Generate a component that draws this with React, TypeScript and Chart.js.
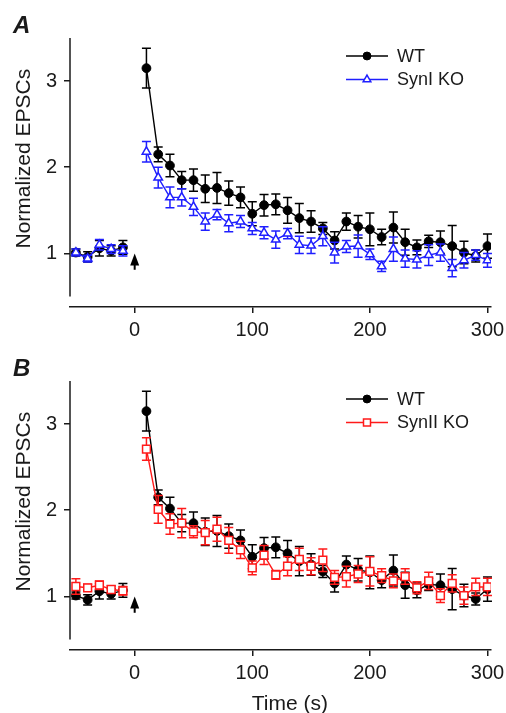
import React, { useEffect, useRef } from 'react';
import { Chart, registerables } from 'chart.js';

Chart.register(...registerables);

// ---------- data ----------
const TIMES = [-50, -40, -30, -20, -10, 10, 20, 30, 40, 50, 60, 70, 80, 90, 100, 110, 120, 130, 140, 150, 160, 170, 180, 190, 200, 210, 220, 230, 240, 250, 260, 270, 280, 290, 300];

const WT_MEAN = [1.01, 0.96, 1.06, 1.03, 1.07, 3.15, 2.15, 2.02, 1.85, 1.85, 1.75, 1.76, 1.70, 1.65, 1.46, 1.56, 1.57, 1.50, 1.41, 1.37, 1.29, 1.15, 1.37, 1.31, 1.28, 1.19, 1.30, 1.13, 1.07, 1.14, 1.13, 1.085, 1.01, 0.97, 1.085];
const WT_SEM = [0.04, 0.06, 0.09, 0.06, 0.08, 0.23, 0.085, 0.13, 0.1, 0.13, 0.16, 0.18, 0.14, 0.12, 0.14, 0.125, 0.12, 0.15, 0.17, 0.125, 0.07, 0.1, 0.1, 0.13, 0.19, 0.09, 0.18, 0.15, 0.085, 0.07, 0.13, 0.24, 0.13, 0.07, 0.14];

const SYN1_MEAN = [1.01, 0.94, 1.10, 1.05, 1.03, 2.18, 1.88, 1.65, 1.65, 1.54, 1.37, 1.45, 1.35, 1.37, 1.29, 1.24, 1.16, 1.23, 1.10, 1.09, 1.20, 1.01, 1.08, 1.085, 0.99, 0.85, 1.05, 0.94, 0.93, 0.98, 1.01, 0.83, 0.92, 0.98, 0.92];
const SYN1_SEM = [0.04, 0.04, 0.06, 0.05, 0.06, 0.12, 0.12, 0.12, 0.1, 0.1, 0.1, 0.06, 0.1, 0.07, 0.07, 0.07, 0.1, 0.06, 0.1, 0.09, 0.11, 0.12, 0.07, 0.13, 0.06, 0.06, 0.14, 0.1, 0.1, 0.12, 0.1, 0.1, 0.09, 0.06, 0.08];

const SYN2_MEAN = [1.115, 1.10, 1.13, 1.08, 1.065, 2.71, 2.01, 1.84, 1.85, 1.75, 1.74, 1.78, 1.65, 1.54, 1.33, 1.48, 1.25, 1.35, 1.43, 1.35, 1.42, 1.22, 1.23, 1.26, 1.29, 1.24, 1.18, 1.23, 1.10, 1.18, 1.01, 1.15, 1.01, 1.11, 1.11];
const SYN2_SEM = [0.09, 0.04, 0.05, 0.04, 0.05, 0.13, 0.16, 0.12, 0.17, 0.07, 0.14, 0.14, 0.15, 0.1, 0.08, 0.11, 0.05, 0.11, 0.13, 0.1, 0.13, 0.08, 0.12, 0.1, 0.17, 0.08, 0.08, 0.09, 0.07, 0.1, 0.08, 0.1, 0.1, 0.1, 0.1];

const X_TICKS = [0, 100, 200, 300];
const Y_TICKS = [1, 2, 3];
const X_RANGE = [-55, 303];
const Y_RANGE = [0.378, 3.5];
const Y_AXIS_LINE = [0.5, 3.5];
const STIM_TIME = 0;
const STIM_ARROW = [1.0, 0.81]; // tip, base (normalized EPSC units)
const Y_TITLE = 'Normalized EPSCs';
const X_TITLE = 'Time (s)';

const FONT = "'Liberation Sans', Arial, Helvetica, sans-serif";
const INK = '#1a1a1a';

type MarkerStyle = 'circle' | 'triangle' | 'rect';

function drawMarker(ctx: CanvasRenderingContext2D, style: MarkerStyle, x: number, y: number, r: number, stroke: string, fill: string, lw: number) {
  ctx.save();
  ctx.beginPath();
  if (style === 'circle') {
    ctx.arc(x, y, r, 0, Math.PI * 2);
  } else if (style === 'triangle') {
    let a = 0;
    ctx.moveTo(x + Math.sin(a) * r, y - Math.cos(a) * r);
    a += (2 * Math.PI) / 3;
    ctx.lineTo(x + Math.sin(a) * r, y - Math.cos(a) * r);
    a += (2 * Math.PI) / 3;
    ctx.lineTo(x + Math.sin(a) * r, y - Math.cos(a) * r);
    ctx.closePath();
  } else {
    const s = r * Math.SQRT1_2;
    ctx.rect(x - s, y - s, 2 * s, 2 * s);
  }
  ctx.fillStyle = fill;
  ctx.fill();
  ctx.lineWidth = lw;
  ctx.strokeStyle = stroke;
  ctx.stroke();
  ctx.restore();
}

const errorBarPlugin = {
  id: 'errorBars',
  beforeDatasetDraw(chart: any, args: any) {
    const ds = chart.data.datasets[args.index];
    const errs: number[] | undefined = ds.errorBars;
    if (!errs) return;
    const xs = chart.scales.x;
    const ys = chart.scales.y;
    const ctx: CanvasRenderingContext2D = chart.ctx;
    ctx.save();
    ctx.strokeStyle = ds.borderColor;
    ctx.lineWidth = 1.5;
    ds.data.forEach((p: any, i: number) => {
      if (p.y == null) return;
      const px = xs.getPixelForValue(p.x);
      const top = ys.getPixelForValue(p.y + errs[i]);
      const bot = ys.getPixelForValue(p.y - errs[i]);
      ctx.beginPath();
      ctx.moveTo(px, top);
      ctx.lineTo(px, bot);
      ctx.moveTo(px - 4.5, top);
      ctx.lineTo(px + 4.5, top);
      ctx.moveTo(px - 4.5, bot);
      ctx.lineTo(px + 4.5, bot);
      ctx.stroke();
    });
    ctx.restore();
  },
};

function makeDecorPlugin(showXTitle: boolean) {
  return {
    id: 'decor',
    afterDraw(chart: any) {
      const ctx: CanvasRenderingContext2D = chart.ctx;
      const xs = chart.scales.x;
      const ys = chart.scales.y;
      const left = chart.chartArea.left;
      ctx.save();
      // detached y axis line
      ctx.strokeStyle = INK;
      ctx.lineWidth = 1.5;
      ctx.beginPath();
      ctx.moveTo(left, ys.getPixelForValue(Y_AXIS_LINE[1]));
      ctx.lineTo(left, ys.getPixelForValue(Y_AXIS_LINE[0]));
      ctx.stroke();
      // stimulus arrow
      const ax = xs.getPixelForValue(STIM_TIME);
      const tip = ys.getPixelForValue(STIM_ARROW[0]);
      const base = ys.getPixelForValue(STIM_ARROW[1]);
      ctx.fillStyle = '#000';
      ctx.beginPath();
      ctx.moveTo(ax, tip);
      ctx.lineTo(ax + 4.5, tip + 12);
      ctx.lineTo(ax - 4.5, tip + 12);
      ctx.closePath();
      ctx.fill();
      ctx.lineWidth = 2;
      ctx.strokeStyle = '#000';
      ctx.beginPath();
      ctx.moveTo(ax, tip + 8);
      ctx.lineTo(ax, base);
      ctx.stroke();
      // axis titles
      ctx.fillStyle = INK;
      ctx.font = `21px ${FONT}`;
      ctx.textAlign = 'center';
      ctx.textBaseline = 'middle';
      ctx.save();
      ctx.translate(24, ys.getPixelForValue(2.1));
      ctx.rotate(-Math.PI / 2);
      ctx.fillText(Y_TITLE, 0, 0);
      ctx.restore();
      if (showXTitle) {
        ctx.fillText(X_TITLE, xs.getPixelForValue(132), chart.height - 9);
      }
      // legend
      const area = chart.chartArea;
      const x0 = area.right - 145;
      const lineLen = 42;
      chart.data.datasets.forEach((ds: any, i: number) => {
        const y = area.top + 18 + i * 23.5;
        ctx.strokeStyle = ds.borderColor;
        ctx.lineWidth = 1.3;
        ctx.beginPath();
        ctx.moveTo(x0, y);
        ctx.lineTo(x0 + lineLen, y);
        ctx.stroke();
        drawMarker(ctx, ds.pointStyle, x0 + lineLen / 2, y, ds.pointRadius * 0.9, ds.borderColor, ds.pointBackgroundColor, ds.pointBorderWidth);
        ctx.fillStyle = INK;
        ctx.font = `18px ${FONT}`;
        ctx.textBaseline = 'middle';
        ctx.textAlign = 'left';
        ctx.fillText(ds.label, x0 + lineLen + 9, y + 1);
      });
      ctx.restore();
    },
  };
}

type PanelProps = {
  letter: string;
  koLabel: string;
  koMean: number[];
  koSem: number[];
  koColor: string;
  koStyle: MarkerStyle;
  koRadius: number;
  height: number;
  showXTitle: boolean;
};

function Panel(props: PanelProps) {
  const ref = useRef<HTMLCanvasElement | null>(null);
  useEffect(() => {
    if (!ref.current) return;
    const gapSegment = (color: string) => ({
      borderColor: (c: any) => (c.p0.parsed.x < STIM_TIME && c.p1.parsed.x > STIM_TIME ? 'rgba(0,0,0,0)' : color),
    });
    const xAxisHeight = props.height - 307;
    const chart = new Chart(ref.current, {
      type: 'line',
      data: {
        datasets: [
          {
            label: 'WT',
            data: TIMES.map((t, i) => ({ x: t, y: WT_MEAN[i] })),
            borderColor: '#000000',
            backgroundColor: '#000000',
            pointBackgroundColor: '#000000',
            pointBorderColor: '#000000',
            pointStyle: 'circle',
            pointRadius: 4.4,
            pointBorderWidth: 1,
            borderWidth: 1.4,
            tension: 0,
            order: 1,
            segment: gapSegment('#000000'),
            errorBars: WT_SEM,
          } as any,
          {
            label: props.koLabel,
            data: TIMES.map((t, i) => ({ x: t, y: props.koMean[i] })),
            borderColor: props.koColor,
            backgroundColor: props.koColor,
            pointBackgroundColor: '#ffffff',
            pointBorderColor: props.koColor,
            pointStyle: props.koStyle,
            pointRadius: props.koRadius,
            pointBorderWidth: 1.5,
            borderWidth: 1.4,
            tension: 0,
            order: 0,
            segment: gapSegment(props.koColor),
            errorBars: props.koSem,
          } as any,
        ],
      },
      options: {
        responsive: false,
        animation: false,
        events: [],
        layout: { padding: { left: 13, right: 15, top: 0, bottom: 0 } },
        plugins: {
          legend: { display: false },
          tooltip: { enabled: false },
          title: {
            display: true,
            text: props.letter,
            align: 'start',
            color: INK,
            font: { family: FONT, size: 24, style: 'italic', lineHeight: 1 },
            padding: { top: 14, bottom: 0 },
          },
        },
        scales: {
          x: {
            type: 'linear',
            min: X_RANGE[0],
            max: X_RANGE[1],
            afterBuildTicks: (s: any) => {
              s.ticks = X_TICKS.map((v) => ({ value: v }));
            },
            afterFit: (s: any) => {
              s.height = xAxisHeight;
              s.paddingLeft = 0;
              s.paddingRight = 0;
            },
            grid: { display: true, drawOnChartArea: false, drawTicks: true, tickLength: 6, color: INK, lineWidth: 1.5 },
            border: { display: true, color: INK, width: 1.5 },
            ticks: { color: INK, font: { family: FONT, size: 20 }, padding: 5, maxRotation: 0, autoSkip: false },
          },
          y: {
            type: 'linear',
            min: Y_RANGE[0],
            max: Y_RANGE[1],
            afterBuildTicks: (s: any) => {
              s.ticks = Y_TICKS.map((v) => ({ value: v }));
            },
            afterFit: (s: any) => {
              s.width = 57;
              s.paddingTop = 0;
              s.paddingBottom = 0;
            },
            grid: { display: true, drawOnChartArea: false, drawTicks: true, tickLength: 6, color: INK, lineWidth: 1.5 },
            border: { display: false },
            ticks: { color: INK, font: { family: FONT, size: 20 }, padding: 7 },
          },
        },
      } as any,
      plugins: [errorBarPlugin, makeDecorPlugin(props.showXTitle)],
    });
    return () => chart.destroy();
  }, []);
  return <canvas ref={ref} width={506} height={props.height} style={{ display: 'block', width: 506, height: props.height }} />;
}

export default function App() {
  return (
    <div style={{ position: 'fixed', left: 0, top: 0, width: 506, height: 713, background: '#ffffff', overflow: 'hidden' }}>
      <Panel letter="A" koLabel="SynI KO" koMean={SYN1_MEAN} koSem={SYN1_SEM} koColor="#1f1fff" koStyle="triangle" koRadius={4.9} height={343} showXTitle={false} />
      <Panel letter="B" koLabel="SynII KO" koMean={SYN2_MEAN} koSem={SYN2_SEM} koColor="#ff1a1a" koStyle="rect" koRadius={5.5} height={370} showXTitle={true} />
    </div>
  );
}
